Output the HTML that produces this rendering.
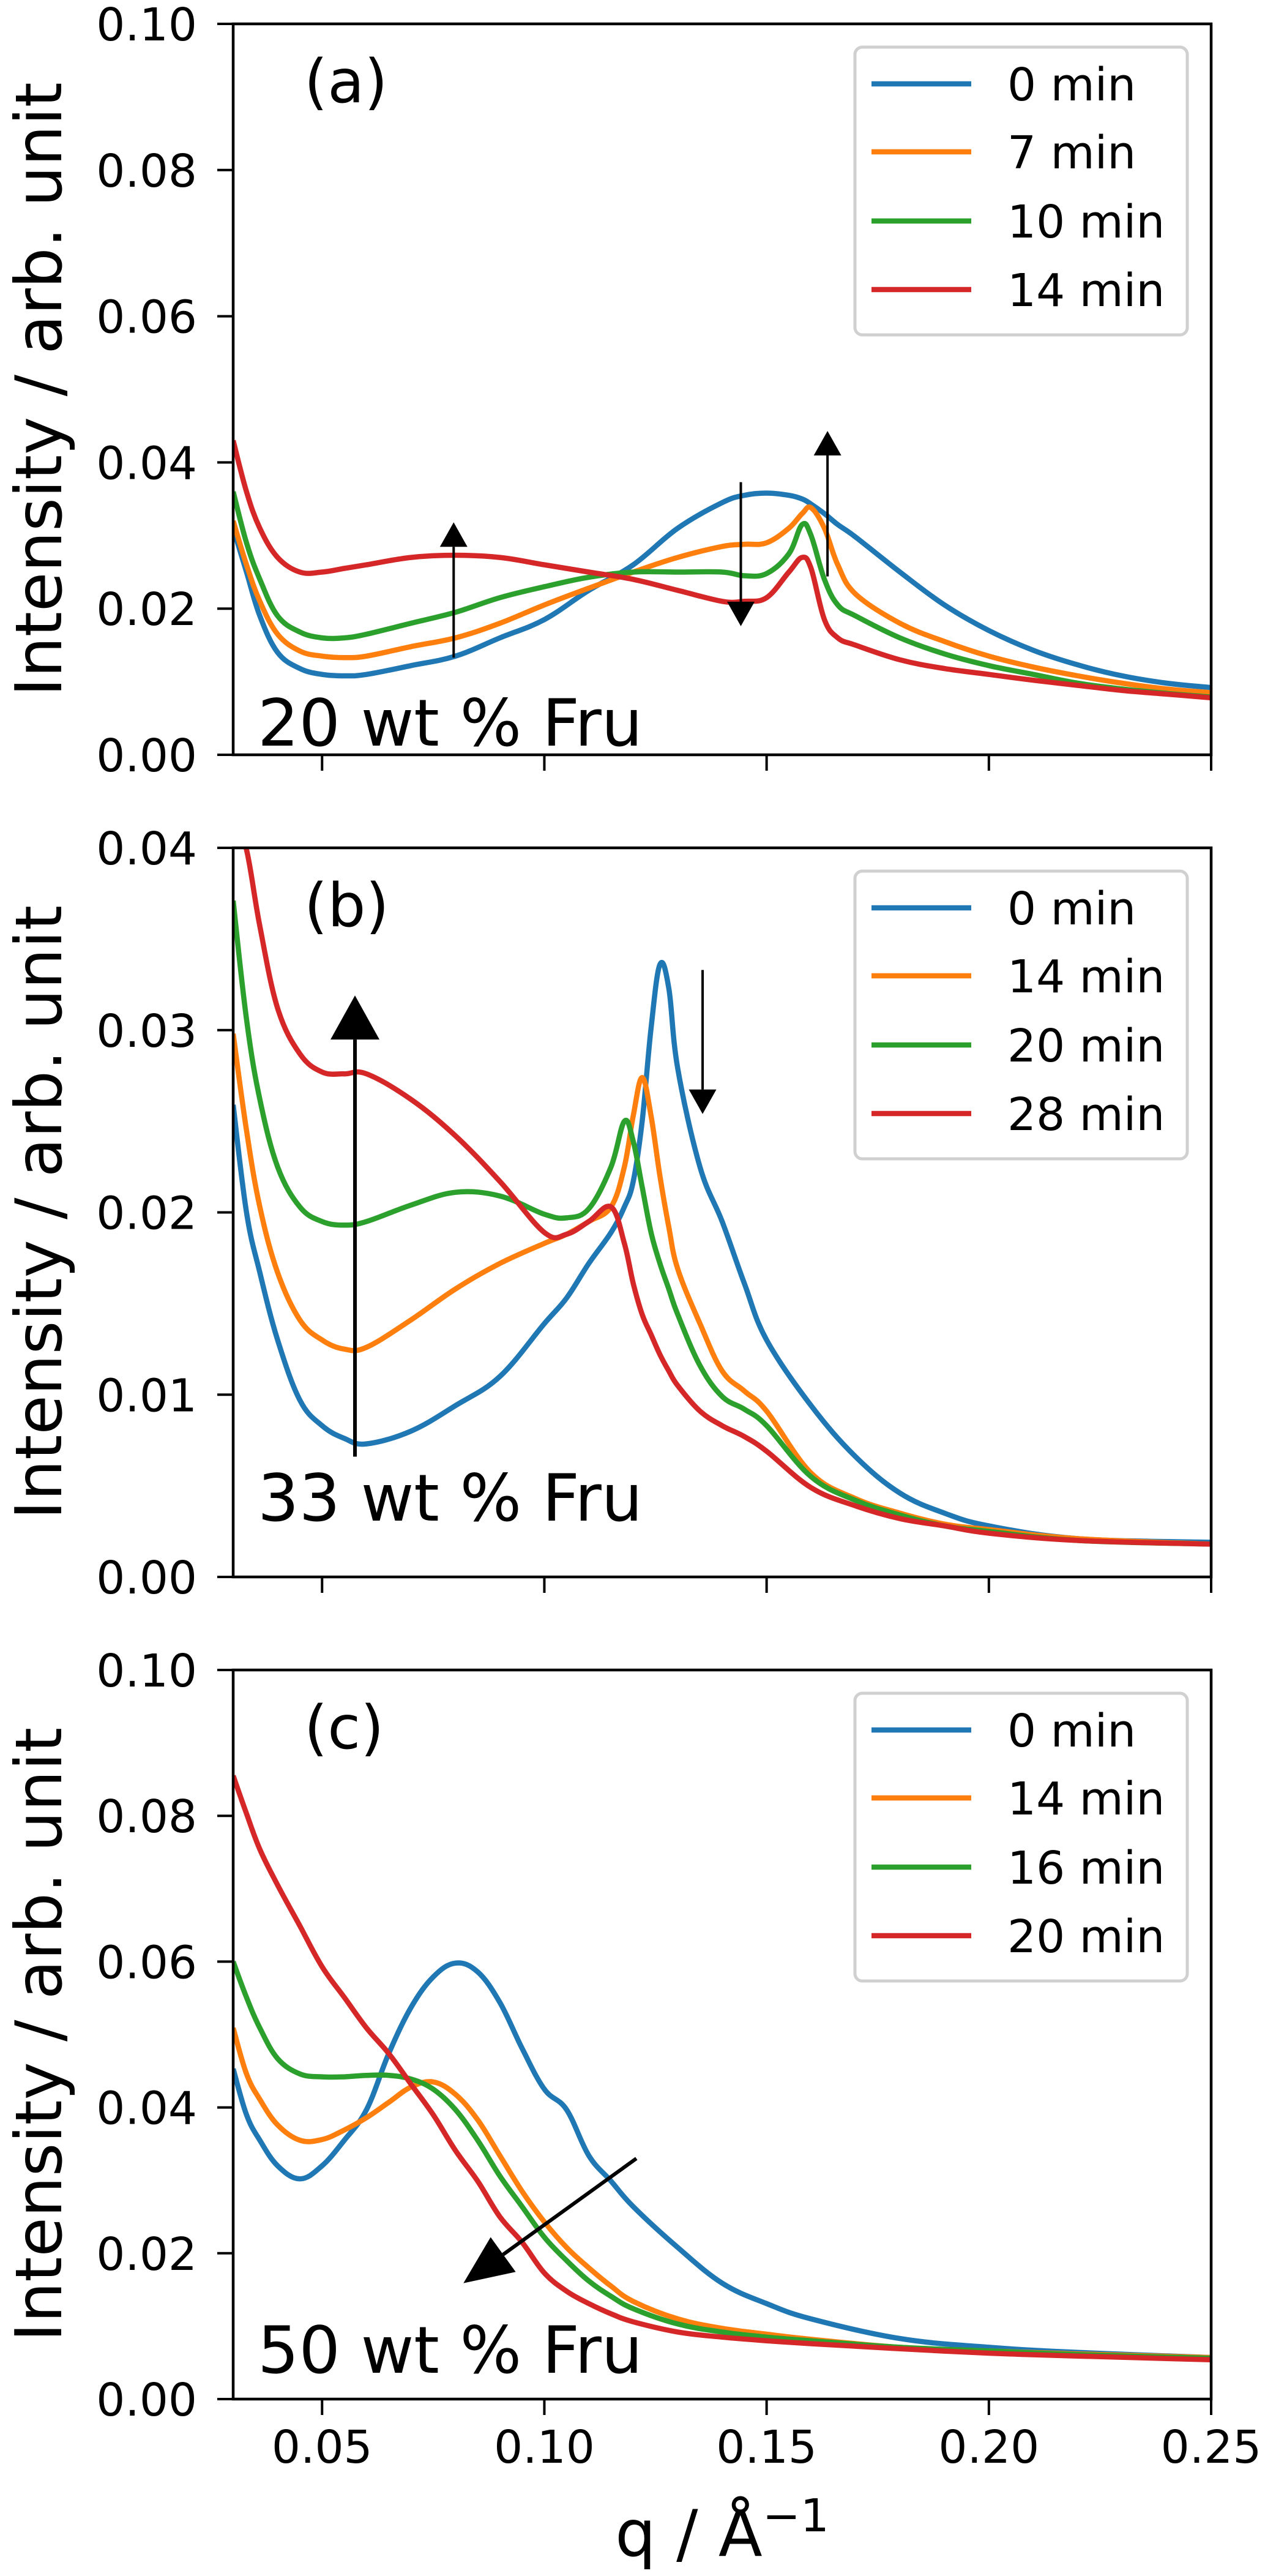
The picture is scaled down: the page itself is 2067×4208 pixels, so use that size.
<!DOCTYPE html>
<html><head><meta charset="utf-8"><style>
html,body{margin:0;padding:0;background:#fff;}
svg{display:block;font-family:"DejaVu Sans","Liberation Sans",sans-serif;}
</style></head>
<body>
<svg id="fig" width="2067" height="4208" viewBox="0 0 2067 4208" xmlns="http://www.w3.org/2000/svg"></svg>
<script>
// ---- data ----
const colors = ['#1f77b4','#ff7f0e','#2ca02c','#d62728'];
const xTicks = [0.05,0.10,0.15,0.20,0.25];
const xTickLabels = ['0.05','0.10','0.15','0.20','0.25'];

const qA = [0.03,0.033,0.036,0.04,0.045,0.05,0.055,0.06,0.07,0.08,0.09,0.10,0.11,0.12,0.13,0.14,0.145,0.15,0.155,0.158,0.16,0.163,0.166,0.17,0.18,0.19,0.20,0.21,0.22,0.23,0.24,0.25];
const a0 = [0.031,0.025,0.019,0.014,0.0118,0.011,0.0108,0.011,0.0122,0.0135,0.016,0.0185,0.0225,0.026,0.031,0.0345,0.0355,0.0358,0.0355,0.035,0.0343,0.033,0.0315,0.0298,0.025,0.0205,0.017,0.0143,0.0123,0.0108,0.0098,0.0092];
const a7 = [0.032,0.026,0.021,0.0165,0.0142,0.0135,0.0133,0.0135,0.0148,0.016,0.018,0.0205,0.0228,0.025,0.027,0.0285,0.0288,0.029,0.031,0.033,0.0338,0.031,0.026,0.022,0.018,0.0155,0.0135,0.012,0.0108,0.0098,0.009,0.0085];
const a10 = [0.036,0.029,0.024,0.019,0.0168,0.016,0.016,0.0165,0.018,0.0195,0.0215,0.023,0.0243,0.025,0.025,0.025,0.0245,0.0248,0.0275,0.0315,0.030,0.024,0.0205,0.019,0.016,0.0138,0.0122,0.011,0.0098,0.009,0.0084,0.0079];
const a14 = [0.043,0.036,0.031,0.027,0.025,0.025,0.0255,0.026,0.027,0.0273,0.027,0.026,0.025,0.024,0.0225,0.021,0.021,0.0215,0.025,0.027,0.0255,0.0185,0.016,0.015,0.013,0.0118,0.011,0.0102,0.0095,0.0088,0.0083,0.0078];

const qB = [0.03,0.033,0.036,0.04,0.045,0.05,0.055,0.06,0.07,0.08,0.09,0.10,0.105,0.11,0.115,0.118,0.12,0.122,0.124,0.126,0.128,0.13,0.135,0.14,0.145,0.15,0.16,0.17,0.18,0.19,0.20,0.22,0.25];
const b0 = [0.0259,0.020,0.0167,0.013,0.0097,0.0083,0.0076,0.0073,0.008,0.0094,0.011,0.0139,0.0153,0.0172,0.0189,0.0203,0.0217,0.025,0.0301,0.0336,0.0323,0.0279,0.0225,0.0195,0.0161,0.013,0.0094,0.0066,0.0046,0.0035,0.0028,0.0021,0.0019];
const b14 = [0.0298,0.0245,0.0203,0.0167,0.0141,0.013,0.0125,0.0126,0.0141,0.0158,0.0172,0.0183,0.0188,0.0195,0.0203,0.0225,0.0253,0.0274,0.0253,0.022,0.0192,0.0169,0.0139,0.0113,0.0102,0.0091,0.0057,0.0043,0.0035,0.0029,0.0026,0.0021,0.0018];
const b20 = [0.0371,0.0306,0.0262,0.0225,0.0203,0.0195,0.0193,0.0195,0.0204,0.0211,0.0209,0.0199,0.0197,0.0202,0.0225,0.025,0.0239,0.0214,0.0189,0.0172,0.0158,0.0144,0.0116,0.0099,0.0092,0.0083,0.0055,0.0042,0.0034,0.0028,0.0025,0.002,0.0018];
const b28 = [0.0418,0.0399,0.0357,0.0312,0.0287,0.0277,0.0276,0.0276,0.0262,0.0242,0.0217,0.0189,0.0188,0.0195,0.0203,0.0183,0.0161,0.0144,0.0133,0.0122,0.0113,0.0105,0.0091,0.0083,0.0077,0.0069,0.0049,0.0039,0.0032,0.0028,0.0024,0.002,0.0018];

const qC = [0.03,0.033,0.036,0.04,0.045,0.05,0.055,0.06,0.065,0.07,0.075,0.08,0.085,0.09,0.095,0.10,0.105,0.11,0.115,0.12,0.13,0.14,0.15,0.16,0.18,0.20,0.22,0.25];
const c0 = [0.0453,0.039,0.0355,0.032,0.0302,0.032,0.0355,0.0397,0.0474,0.0537,0.0579,0.0598,0.0586,0.0544,0.0481,0.0425,0.0397,0.0334,0.0299,0.0264,0.0208,0.0159,0.0131,0.011,0.0083,0.0071,0.0064,0.0057];
const c14 = [0.0509,0.0446,0.0411,0.0376,0.0355,0.0356,0.0369,0.0386,0.0407,0.0428,0.0435,0.0418,0.0383,0.0334,0.0285,0.0243,0.0208,0.018,0.0155,0.0134,0.011,0.0097,0.0089,0.0082,0.0071,0.0066,0.0062,0.0057];
const c16 = [0.060,0.0551,0.0509,0.0467,0.0446,0.0442,0.0442,0.0444,0.0444,0.0439,0.0425,0.0397,0.0355,0.0306,0.0264,0.0222,0.019,0.0162,0.0141,0.0124,0.0103,0.0092,0.0085,0.008,0.0071,0.0066,0.0061,0.0056];
const c20 = [0.0855,0.0803,0.0754,0.0705,0.0649,0.0593,0.0551,0.0509,0.0474,0.0432,0.039,0.0341,0.0299,0.025,0.0215,0.0173,0.0148,0.0131,0.0117,0.0106,0.0092,0.0085,0.008,0.0076,0.0069,0.0063,0.0059,0.0054];

const legendA = ['0 min','7 min','10 min','14 min'];
const legendB = ['0 min','14 min','20 min','28 min'];
const legendC = ['0 min','14 min','16 min','20 min'];
const yTicksA = [0,0.02,0.04,0.06,0.08,0.10];
const yTickLabelsA = ['0.00','0.02','0.04','0.06','0.08','0.10'];
const yTicksB = [0,0.01,0.02,0.03,0.04];
const yTickLabelsB = ['0.00','0.01','0.02','0.03','0.04'];
const arrowsA = [[0.0796,0.0133,0.0796,0.0318],[0.1442,0.0373,0.1442,0.0176],[0.1637,0.0244,0.1637,0.0443]];
const arrowsB = [[0.0574,0.0066,0.0574,0.0319],[0.1356,0.0333,0.1356,0.0254]];
const arrowsC = [[0.1207,0.033,0.0818,0.0159]];

// ---- drawing ----
const NS='http://www.w3.org/2000/svg';
const svg=document.getElementById('fig');
function mk(tag,attrs,parent){const e=document.createElementNS(NS,tag);for(const k in attrs)e.setAttribute(k,attrs[k]);(parent||svg).appendChild(e);return e;}
const L=381,R=1979;
function X(q){return L+(q-0.03)/(0.25-0.03)*(R-L);}
function smoothPath(pts){
 let d='M'+pts[0][0].toFixed(1)+' '+pts[0][1].toFixed(1);
 const t=0.18;
 for(let i=0;i<pts.length-1;i++){
  const p0=pts[Math.max(0,i-1)],p1=pts[i],p2=pts[i+1],p3=pts[Math.min(pts.length-1,i+2)];
  const c1x=p1[0]+(p2[0]-p0[0])*t,c1y=p1[1]+(p2[1]-p0[1])*t;
  const c2x=p2[0]-(p3[0]-p1[0])*t,c2y=p2[1]-(p3[1]-p1[1])*t;
  d+=` C${c1x.toFixed(1)} ${c1y.toFixed(1)} ${c2x.toFixed(1)} ${c2y.toFixed(1)} ${p2[0].toFixed(1)} ${p2[1].toFixed(1)}`;
 }
 return d;
}

const panels=[
 {id:'a',top:39,bot:1233,ymax:0.10,yt:yTicksA,ytl:yTickLabelsA,q:qA,series:[a0,a7,a10,a14],leg:legendA,arrows:arrowsA,heads:[[45,40],[45,40],[45,40]],label:'(a)',conc:'20 wt % Fru',concOff:15},
 {id:'b',top:1385,bot:2576,ymax:0.04,yt:yTicksB,ytl:yTickLabelsB,q:qB,series:[b0,b14,b20,b28],leg:legendB,arrows:arrowsB,heads:[[80,72],[45,40]],label:'(b)',conc:'33 wt % Fru',concOff:92},
 {id:'c',top:2728,bot:3919,ymax:0.10,yt:yTicksA,ytl:yTickLabelsA,q:qC,series:[c0,c14,c16,c20],leg:legendC,arrows:arrowsC,heads:[[70,80]],label:'(c)',conc:'50 wt % Fru',concOff:43}
];

panels.forEach((p,pi)=>{
 const g=mk('g',{});
 
 
 const Y=v=>p.bot-(v/p.ymax)*(p.bot-p.top);
 const clipId='clip'+p.id;
 const cp=mk('clipPath',{id:clipId},g);
 mk('rect',{x:L,y:p.top,width:R-L,height:p.bot-p.top},cp);
 const sg=mk('g',{'clip-path':'url(#'+clipId+')'},g);
 p.series.forEach((s,i)=>{
  const pts=s.map((v,j)=>[X(p.q[j]),Y(v)]);
  const path=mk('path',{d:smoothPath(pts),fill:'none',stroke:colors[i],'stroke-width':8.5,'stroke-linejoin':'round'},sg);
  
  
 });
 p.arrows.forEach((a,k)=>{
  const x1=X(a[0]),y1=Y(a[1]),x2=X(a[2]),y2=Y(a[3]);
  const [hw,hl]=p.heads[k];
  const dx=x2-x1,dy=y2-y1,len=Math.hypot(dx,dy),ux=dx/len,uy=dy/len;
  const bx=x2-ux*hl,by=y2-uy*hl;
  const ag=mk('g',{},g);
  
  
  mk('line',{x1:x1,y1:y1,x2:bx,y2:by,stroke:'#000','stroke-width':hw>60?6:4},ag);
  mk('polygon',{points:`${x2},${y2} ${bx-uy*hw/2},${by+ux*hw/2} ${bx+uy*hw/2},${by-ux*hw/2}`,fill:'#000'},ag);
 });
 const fr=mk('rect',{x:L,y:p.top,width:R-L,height:p.bot-p.top,fill:'none',stroke:'#000','stroke-width':4.5},g);
 
 
 p.yt.forEach((v,i)=>{
  mk('line',{x1:L-26,y1:Y(v),x2:L,y2:Y(v),stroke:'#000','stroke-width':4},g);
  const t=mk('text',{x:322,y:Y(v)+27,'text-anchor':'end','font-size':74},g);
  t.textContent=p.ytl[i];
  
  
 });
 xTicks.forEach((v,i)=>{
  mk('line',{x1:X(v),y1:p.bot,x2:X(v),y2:p.bot+26,stroke:'#000','stroke-width':4},g);
  if(pi===2){
   const t=mk('text',{x:X(v),y:4023,'text-anchor':'middle','font-size':74},g);
   t.textContent=xTickLabels[i];
   
   
  }
 });
 const cy=(p.top+p.bot)/2;
 const yl=mk('text',{x:0,y:0,transform:`translate(100,${cy}) rotate(-90)`,'text-anchor':'middle','font-size':105},g);
 yl.textContent='Intensity / arb. unit';
 
 
 const pl=mk('text',{x:497,y:p.top+128,'font-size':98},g);
 pl.textContent=p.label;
 
 
 const cl=mk('text',{x:421,y:p.bot-p.concOff,'font-size':106},g);
 cl.textContent=p.conc;
 
 
 const lg=mk('g',{},g);
 
 
 mk('rect',{x:1397,y:p.top+38,width:543,height:470,rx:12,fill:'#fff','fill-opacity':0.8,stroke:'#d0d0d0','stroke-width':5},lg);
 const offs=[98,209,322,434];
 p.leg.forEach((name,i)=>{
  const e=mk('g',{},lg);
  
  
  mk('line',{x1:1424,y1:p.top+offs[i],x2:1587,y2:p.top+offs[i],stroke:colors[i],'stroke-width':8.5},e);
  const t=mk('text',{x:1646,y:p.top+offs[i]+27,'font-size':74},e);
  t.textContent=name;
 });
});
const xl=mk('text',{x:1180,y:4175,'text-anchor':'middle','font-size':105});
xl.innerHTML='q / Å<tspan dy="-40" font-size="74">−1</tspan>';


</script>
</body></html>
